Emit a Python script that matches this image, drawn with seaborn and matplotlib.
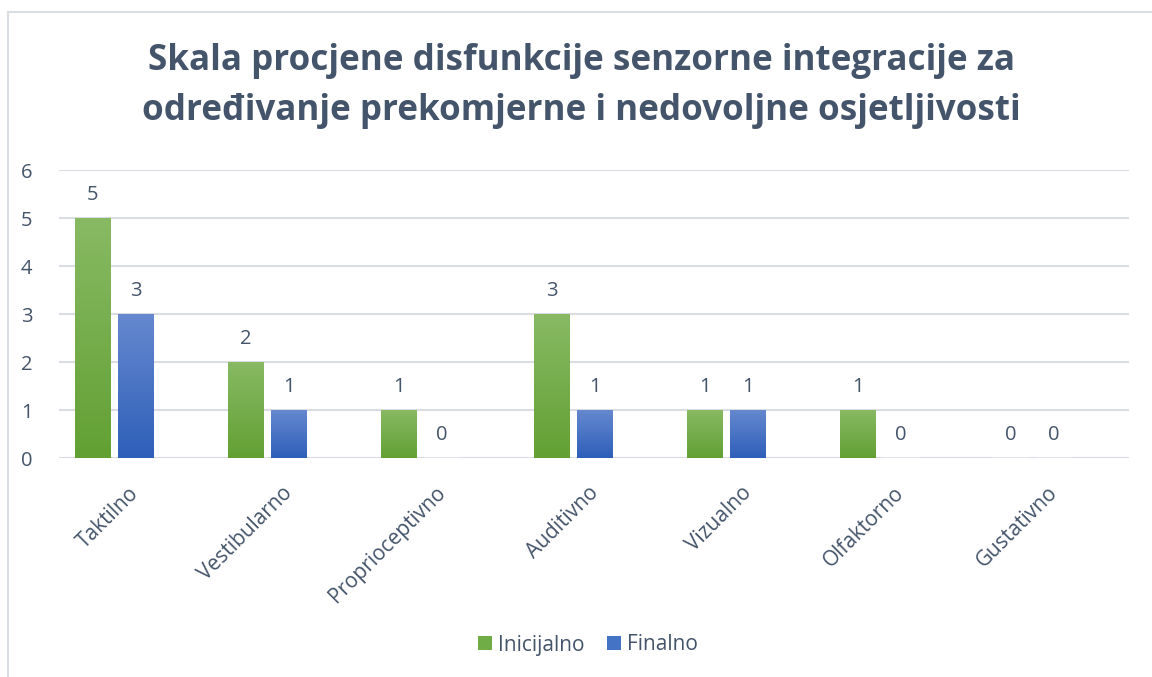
import numpy as np
import pandas as pd
import matplotlib
matplotlib.use("Agg")
import matplotlib.pyplot as plt
import matplotlib.transforms as mtransforms
import seaborn as sns
from matplotlib.colors import LinearSegmentedColormap
from matplotlib.patches import Patch
from matplotlib.lines import Line2D

categories = ["Taktilno", "Vestibularno", "Proprioceptivno", "Auditivno",
              "Vizualno", "Olfaktorno", "Gustativno"]
inicijalno = [5, 2, 1, 3, 1, 1, 0]
finalno = [3, 1, 0, 1, 1, 0, 0]
series_names = ["Inicijalno", "Finalno"]
title_lines = ["Skala procjene disfunkcije senzorne integracije za",
               "određivanje prekomjerne i nedovoljne osjetljivosti"]

df = pd.DataFrame({
    "Kategorija": categories * 2,
    "Serija": [series_names[0]] * len(categories) + [series_names[1]] * len(categories),
    "Vrijednost": inicijalno + finalno,
})

sns.set_theme(style="white")
plt.rcParams['font.family'] = ['Open Sans', 'DejaVu Sans']

TXT = "#44546A"
GREEN = "#70AD47"
BLUE = "#4472C4"
green_grad = ["#88BA64", "#62A033"]
blue_grad = ["#6689CF", "#2E5FB9"]
FS = 14.5

fig = plt.figure(figsize=(11.52, 6.77), dpi=100)
ax = fig.add_axes([59/1152, 1 - 458/677, (1129-59)/1152, (458-170)/677])

sns.barplot(data=df, x="Kategorija", y="Vrijednost", hue="Serija",
            palette=[GREEN, BLUE], width=0.562, gap=0.185, ax=ax,
            legend=False, saturation=1, errorbar=None)

# gradient fill for bars
for container, grad in zip(ax.containers, [green_grad, blue_grad]):
    cmap = LinearSegmentedColormap.from_list("g", grad)
    for bar in container:
        x0, y0 = bar.get_x(), bar.get_y()
        w, h = bar.get_width(), bar.get_height()
        if h <= 0:
            continue
        bar.set_facecolor("none")
        bar.set_edgecolor("none")
        im = ax.imshow(np.linspace(0, 1, 256).reshape(-1, 1), cmap=cmap,
                       extent=[x0, x0 + w, y0, y0 + h], origin="upper",
                       aspect="auto", zorder=2)
        im.set_clip_path(bar)
    ax.bar_label(container, labels=[str(int(v)) for v in container.datavalues],
                 padding=9, fontsize=FS, color=TXT)

ax.set_xlim((59 - 114) / 153, (1129 - 114) / 153)
ax.set_ylim(0, 6)
ax.set_yticks(range(0, 7))
ax.yaxis.grid(True, color="#D9DDE3", linewidth=1.5, zorder=0)
ax.set_axisbelow(True)
for s in ax.spines.values():
    s.set_visible(False)
ax.set_xlabel("")
ax.set_ylabel("")
ax.tick_params(axis="y", length=0, pad=19, labelsize=FS, labelcolor=TXT)
ax.tick_params(axis="x", length=0, pad=0, labelsize=FS + 0.5, labelcolor=TXT)
offset = mtransforms.ScaledTranslation(22/100, -32/100, fig.dpi_scale_trans)
for lbl in ax.get_xticklabels():
    lbl.set_rotation(45)
    lbl.set_ha("right")
    lbl.set_va("center")
    lbl.set_rotation_mode("anchor")
    lbl.set_transform(lbl.get_transform() + offset)
ax.set_aspect("auto")

for line, yb in zip(title_lines, [70, 120]):
    fig.text(581.5/1152, 1 - yb/677, line, ha="center", va="baseline",
             fontsize=25.2, fontweight="bold", color=TXT)

handles = [Patch(facecolor=GREEN, edgecolor="none"), Patch(facecolor=BLUE, edgecolor="none")]
fig.legend(handles, series_names, loc="center", bbox_to_anchor=(588/1152, 1 - 645/677),
           ncol=2, frameon=False, fontsize=FS + 0.5, labelcolor=TXT,
           handlelength=0.65, handleheight=0.65, handletextpad=0.3, columnspacing=1.1)

# chart frame (left and top edges)
fig.add_artist(Line2D([7.5/1152, 7.5/1152], [0, 1 - 12/677], color="#D9DEE5", linewidth=1.5))
fig.add_artist(Line2D([7.5/1152, 1], [1 - 12/677, 1 - 12/677], color="#D9DEE5", linewidth=1.5))

fig.savefig("out.png", dpi=100, facecolor="white")
